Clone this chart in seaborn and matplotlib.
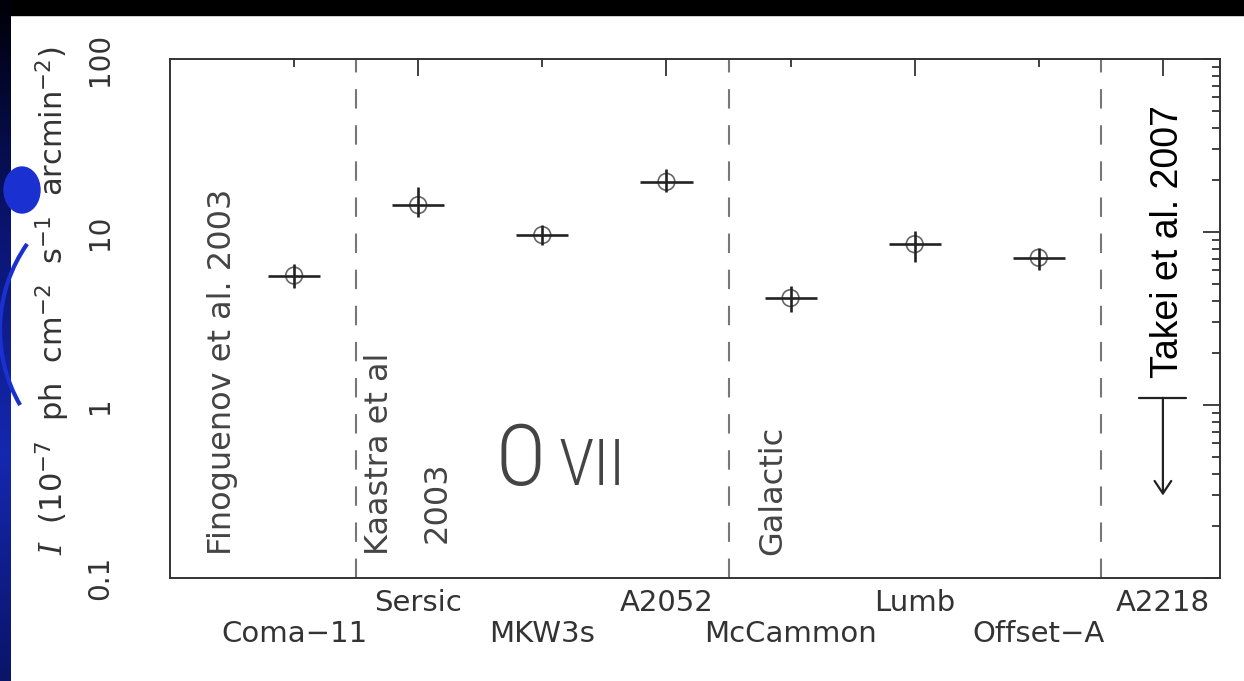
import numpy as np
import pandas as pd
import matplotlib
matplotlib.use("Agg")
import matplotlib.pyplot as plt
import seaborn as sns
from matplotlib.patches import Rectangle, Ellipse, Arc
from matplotlib.colors import LinearSegmentedColormap
from matplotlib.ticker import FixedLocator, FixedFormatter, NullFormatter, LogLocator

# ---------------- data ----------------
sources = ["Coma\u221211", "Sersic", "MKW3s", "A2052", "McCammon", "Lumb", "Offset\u2212A"]
intensity = [5.6, 14.3, 9.6, 19.5, 4.15, 8.5, 7.1]
lower = [4.75, 12.2, 8.4, 17.0, 3.45, 6.7, 6.0]
upper = [6.5, 18.2, 11.0, 23.1, 4.9, 10.1, 8.1]
limit_source = "A2218"
limit_value = 1.1
limit_arrow_to = 0.3
ytick_values = [0.1, 1, 10, 100]
ytick_labels = ["0.1", "1", "10", "100"]
group_bounds = [1.5, 4.5, 7.5]

all_sources = sources + [limit_source]
positions = np.arange(1, len(all_sources) + 1)

df = pd.DataFrame({"source": sources, "pos": positions[:len(sources)],
                   "I": intensity, "lo": lower, "hi": upper})

# ---------------- style ----------------
sns.set_style("white")
plt.rcParams["font.family"] = ["DejaVu Sans"]
plt.rcParams["mathtext.fontset"] = "custom"
plt.rcParams["mathtext.rm"] = "DejaVu Sans"
plt.rcParams["mathtext.it"] = "DejaVu Serif:italic"
plt.rcParams["mathtext.bf"] = "DejaVu Sans:bold"
plt.rcParams["lines.scale_dashes"] = False

W, H = 1244, 681
fig = plt.figure(figsize=(W / 100, H / 100), dpi=100, facecolor="white")

# background slide decorations (pixel coordinates)
bg = fig.add_axes([0, 0, 1, 1], zorder=-5)
bg.set_xlim(0, W)
bg.set_ylim(H, 0)
bg.axis("off")
bg.add_patch(Rectangle((0, 0), W, 15, color="black"))
grad = np.linspace(0, 1, 200)[:, None]
cmap = LinearSegmentedColormap.from_list("slide", ["#000008", "#0a1470", "#1428b0", "#0a1468"])
bg.imshow(grad, cmap=cmap, aspect="auto", extent=(0, 11, H, 0), zorder=1)
bg.add_patch(Ellipse((22, 190), 36, 46, color="#1a30d0", zorder=2))
bg.add_patch(Arc((150, 330), 300, 300, theta1=150, theta2=215, color="#1a30d0", lw=3, zorder=2))

ax = fig.add_axes([170 / W, 1 - 578 / H, (1220 - 170) / W, (578 - 59) / H])
ax.set_facecolor("white")

# dashed group separators
for xb in group_bounds:
    ax.axvline(xb, color="#777777", lw=1.5, dashes=(14, 12), zorder=1)

# error bars
ax.errorbar(df["pos"], df["I"],
            yerr=[df["I"] - df["lo"], df["hi"] - df["I"]],
            xerr=0.21, fmt="none", ecolor="#222222", elinewidth=1.9, capsize=0, zorder=3)

# open circles
sns.scatterplot(data=df, x="pos", y="I", marker="o", s=145, fc="none",
                ec="#666666", linewidth=1.2, ax=ax, zorder=2, legend=False)

# upper limit
lp = positions[-1]
ax.plot([lp - 0.19, lp + 0.19], [limit_value, limit_value], color="#222222", lw=1.6, zorder=3)
ax.annotate("", xy=(lp, limit_arrow_to), xytext=(lp, limit_value),
            arrowprops=dict(arrowstyle="->,head_length=0.45,head_width=0.3",
                            mutation_scale=20, color="#222222", lw=1.6,
                            shrinkA=0, shrinkB=0), zorder=3)

# axes
ax.set_yscale("log")
ax.set_ylim(0.1, 100)
ax.set_xlim(0.0, 8.46)
ax.yaxis.set_major_locator(FixedLocator(ytick_values))
ax.yaxis.set_major_formatter(FixedFormatter(ytick_labels))
ax.yaxis.set_minor_locator(LogLocator(base=10, subs=np.arange(2, 10)))
ax.yaxis.set_minor_formatter(NullFormatter())

ax.xaxis.set_major_locator(FixedLocator(positions[1::2]))
ax.xaxis.set_major_formatter(FixedFormatter(all_sources[1::2]))
ax.xaxis.set_minor_locator(FixedLocator(positions[0::2]))
ax.xaxis.set_minor_formatter(FixedFormatter(all_sources[0::2]))

ax.tick_params(which="both", direction="in", top=True, right=True,
               color="#333333", width=1.3, labelcolor="#333333")
ax.tick_params(which="major", length=12)
ax.tick_params(which="minor", length=5.5)
ax.tick_params(axis="x", which="major", pad=8, labelsize=21)
ax.tick_params(axis="x", which="minor", pad=30, labelsize=21)
ax.tick_params(axis="y", which="major", pad=40, labelsize=20)
for lab in ax.get_yticklabels():
    lab.set_rotation(90)
    lab.set_va("center")

for s in ax.spines.values():
    s.set_color("#333333")
    s.set_linewidth(1.4)

ax.set_xlabel("")
ax.set_ylabel(r"$I$  (10$^{-7}$  ph  cm$^{-2}$  s$^{-1}$  arcmin$^{-2}$)",
              fontsize=22, color="#333333")
ax.yaxis.set_label_coords(-0.093, 0.535)

# annotations
tc = "#444444"
ax.text(0.42, 0.136, "Finoguenov et al. 2003", rotation=90, ha="center", va="bottom",
        fontsize=23, color=tc)
ax.text(1.69, 0.136, "Kaastra et al", rotation=90, ha="center", va="bottom",
        fontsize=23, color=tc)
ax.text(2.15, 0.159, "2003", rotation=90, ha="center", va="bottom",
        fontsize=23, color=tc)
ax.text(4.86, 0.136, "Galactic", rotation=90, ha="center", va="bottom",
        fontsize=23, color=tc)
narrow = ["Liberation Sans Narrow", "DejaVu Sans Condensed", "Roboto Condensed", "DejaVu Sans"]
ax.text(2.62, 0.345, "O", ha="left", va="baseline", fontsize=61, color=tc,
        family=narrow, fontweight="light", fontstretch="condensed")
ax.text(3.13, 0.345, "VII", ha="left", va="baseline", fontsize=47, color=tc,
        family=narrow, fontweight="light", fontstretch="condensed")
ax.text(8.04, 1.43, "Takei et al. 2007", rotation=90, ha="center", va="bottom",
        fontsize=27, color="black", family=["Liberation Sans", "DejaVu Sans"])

fig.savefig("out.png", dpi=100, facecolor="white")
